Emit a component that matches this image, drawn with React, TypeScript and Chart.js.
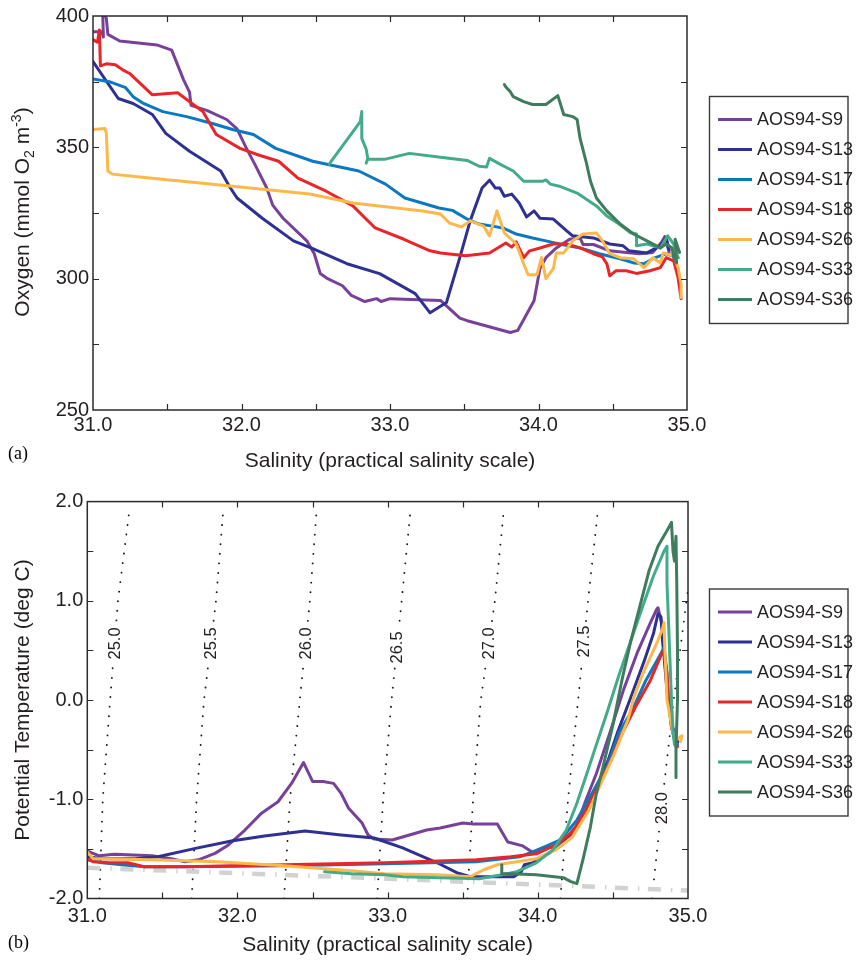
import React, { useEffect, useRef } from "react";
import { Chart, registerables } from "chart.js";

Chart.register(...registerables);

const FONT = "'Liberation Sans', Arial, Helvetica, sans-serif";
const SERIF = "'Liberation Serif', 'Times New Roman', serif";
const TEXT = "#231f20";

const stations = ["AOS94-S9", "AOS94-S13", "AOS94-S17", "AOS94-S18", "AOS94-S26", "AOS94-S33", "AOS94-S36"];
const stationColors = ["#774199", "#2e3192", "#0b78bf", "#e8262a", "#fdb84c", "#43ab87", "#3f7c5e"];

// ---------- Panel (a): salinity vs oxygen ----------
const s9SalA = [31.00, 31.06, 31.07, 31.065, 31.07, 31.09, 31.10, 31.18, 31.43, 31.53, 31.61, 31.65, 31.66, 31.77, 31.90, 31.97, 32.03, 32.09, 32.17, 32.21, 32.28, 32.44, 32.49, 32.53, 32.58, 32.68, 32.74, 32.83, 32.91, 32.94, 33.00, 33.34, 33.47, 33.52, 33.81, 33.86, 33.97, 34.01, 34.05, 34.12, 34.21, 34.28, 34.30, 34.37, 34.48, 34.59, 34.68, 34.77, 34.83, 34.85, 34.88];
const s9OxyA = [394, 394, 392, 402, 403, 399, 393, 390.5, 389, 387, 375.7, 371, 366, 364, 360.6, 357, 350, 343.5, 334.5, 328, 323, 314.4, 309.5, 302, 300, 297.3, 293.6, 291.3, 292.4, 291.3, 292.4, 291.7, 285, 284, 279.5, 280.3, 291.6, 304, 308, 311.7, 315, 315.5, 313, 313, 310.6, 310, 309.5, 310, 314, 316, 310];

const s13SalA = [31.00, 31.17, 31.27, 31.40, 31.49, 31.65, 31.86, 31.92, 31.97, 32.14, 32.35, 32.48, 32.71, 32.93, 33.17, 33.27, 33.38, 33.47, 33.54, 33.62, 33.67, 33.71, 33.74, 33.77, 33.82, 33.87, 33.92, 33.97, 34.01, 34.10, 34.19, 34.23, 34.37, 34.48, 34.57, 34.61, 34.73, 34.82, 34.86, 34.88];
const s13OxyA = [382.6, 368.6, 366.7, 362.5, 355.3, 348.5, 341, 335, 330.7, 323, 314.4, 311.4, 305.7, 301.9, 294.3, 287, 290.9, 308, 322, 334.5, 337.5, 334.5, 334.5, 331.4, 332.2, 328.8, 323.5, 325.8, 323, 322.7, 318.2, 316.3, 315.5, 313.2, 312.5, 310.6, 309.8, 312.5, 315.6, 311];

const s17SalA = [31.00, 31.11, 31.22, 31.27, 31.34, 31.47, 31.63, 31.81, 31.94, 32.08, 32.23, 32.48, 32.79, 32.97, 33.10, 33.33, 33.42, 33.51, 33.60, 33.69, 33.76, 33.85, 33.96, 34.05, 34.14, 34.28, 34.41, 34.55, 34.64, 34.71, 34.77, 34.86, 34.94];
const s17OxyA = [376, 375, 372.7, 369.3, 366.7, 363.6, 361.7, 359, 356.8, 354.9, 349.6, 344.7, 341, 336, 330.7, 326.9, 326, 323, 320.8, 320, 319.3, 317, 315.5, 314.4, 313.2, 311.7, 309.5, 307.6, 306, 305.7, 307.6, 309.5, 308];

const s18SalA = [31.00, 31.03, 31.043, 31.05, 31.09, 31.15, 31.20, 31.25, 31.40, 31.57, 31.74, 31.83, 31.99, 32.12, 32.25, 32.38, 32.57, 32.75, 32.90, 33.09, 33.27, 33.34, 33.51, 33.67, 33.78, 33.82, 33.85, 33.90, 33.94, 34.01, 34.10, 34.19, 34.28, 34.37, 34.43, 34.46, 34.48, 34.52, 34.59, 34.66, 34.75, 34.82, 34.86, 34.91, 34.94, 34.96];
const s18OxyA = [391, 390, 394.7, 381, 381.8, 381.4, 379.5, 378, 370, 370.8, 363.6, 354.9, 349.6, 347, 344.7, 338.3, 333.3, 327.7, 319.3, 315.1, 310.6, 309.8, 308.7, 309.8, 313.6, 312, 314, 308, 310.6, 311.7, 313.2, 313.2, 311.7, 309.5, 308.3, 305.7, 301.1, 303, 303, 302, 303, 304.2, 308, 306.8, 300.4, 292.4];

const s26SalA = [31.00, 31.08, 31.09, 31.10, 31.13, 31.38, 31.94, 32.46, 32.75, 33.22, 33.34, 33.40, 33.48, 33.54, 33.63, 33.67, 33.72, 33.77, 33.85, 33.90, 33.93, 33.99, 34.02, 34.05, 34.10, 34.12, 34.17, 34.23, 34.30, 34.39, 34.43, 34.48, 34.55, 34.64, 34.71, 34.77, 34.82, 34.84, 34.91, 34.94, 34.96, 34.96];
const s26OxyA = [356.8, 357.2, 355.3, 341, 339.8, 338.3, 335.2, 332.2, 328.8, 325.8, 324.6, 321.2, 319.7, 322, 320, 316.3, 325.8, 317.4, 313.2, 305.7, 301.5, 301.5, 308, 300, 303.8, 309.8, 309.8, 314.4, 317, 317.4, 314.4, 309.5, 308, 307.6, 304.2, 308, 306, 309.8, 308.7, 304.2, 298, 292.8];

const s33SalA = [32.59, 32.80, 32.81, 32.81, 32.84, 32.85, 32.84, 32.85, 32.97, 33.13, 33.34, 33.52, 33.60, 33.65, 33.67, 33.74, 33.83, 33.90, 34.03, 34.05, 34.08, 34.14, 34.26, 34.32, 34.39, 34.46, 34.55, 34.62, 34.66, 34.66, 34.73, 34.82, 34.87, 34.91, 34.94];
const s33OxyA = [343.6, 359.8, 363.6, 353.4, 349.2, 345.8, 344, 345.5, 345.5, 347.7, 346.2, 345, 342.8, 342.5, 345.8, 343.6, 341, 337.1, 337.1, 337.6, 336, 335.2, 332.6, 330.3, 327.7, 323.9, 320.5, 317.5, 317, 312.5, 313.2, 311.7, 316.3, 313.2, 308];

const s36SalA = [33.77, 33.78, 33.81, 33.83, 33.90, 33.96, 34.05, 34.13, 34.17, 34.23, 34.26, 34.28, 34.32, 34.35, 34.39, 34.46, 34.55, 34.64, 34.73, 34.82, 34.86, 34.90, 34.91, 34.93, 34.92, 34.95];
const s36OxyA = [373.9, 373, 371.2, 369.3, 367.4, 366.3, 366.3, 369.7, 362.5, 361.7, 360.6, 353.4, 344.7, 337.1, 330.7, 325.8, 320.8, 317, 314.4, 311.7, 313.2, 311.7, 308, 306, 315, 310];

// ---------- Panel (b): salinity vs potential temperature ----------
const s9SalB = [31.00, 31.03, 31.08, 31.18, 31.43, 31.56, 31.65, 31.74, 31.85, 31.94, 32.05, 32.16, 32.27, 32.36, 32.44, 32.50, 32.57, 32.64, 32.69, 32.74, 32.83, 32.87, 32.91, 33.03, 33.26, 33.35, 33.50, 33.57, 33.73, 33.80, 33.90, 33.97, 34.03, 34.11, 34.19, 34.26, 34.32, 34.39, 34.48, 34.57, 34.66, 34.75, 34.79, 34.80, 34.83, 34.84, 34.86, 34.89, 34.93];
const s9ThetaB = [-1.52, -1.54, -1.57, -1.555, -1.57, -1.60, -1.63, -1.61, -1.545, -1.46, -1.31, -1.14, -1.025, -0.84, -0.63, -0.82, -0.82, -0.84, -0.94, -1.09, -1.24, -1.36, -1.40, -1.41, -1.31, -1.29, -1.24, -1.25, -1.25, -1.43, -1.47, -1.54, -1.49, -1.48, -1.39, -1.26, -1.01, -0.74, -0.33, 0.10, 0.47, 0.78, 0.91, 0.93, 0.74, 0.53, 0.10, -0.23, -0.43];

const s13SalB = [31.00, 31.10, 31.32, 31.47, 31.72, 31.96, 32.18, 32.45, 32.69, 32.91, 33.10, 33.33, 33.46, 33.55, 33.73, 33.84, 33.89, 33.91, 33.97, 34.01, 34.08, 34.16, 34.24, 34.32, 34.41, 34.47, 34.53, 34.62, 34.71, 34.77, 34.80, 34.82, 34.83, 34.84, 34.86, 34.89, 34.93];
const s13ThetaB = [-1.58, -1.60, -1.60, -1.58, -1.495, -1.42, -1.37, -1.32, -1.36, -1.39, -1.49, -1.64, -1.74, -1.78, -1.78, -1.78, -1.73, -1.66, -1.64, -1.59, -1.54, -1.46, -1.34, -1.11, -0.81, -0.60, -0.33, 0.03, 0.40, 0.67, 0.87, 0.84, 0.60, 0.45, 0.10, -0.25, -0.42];

const s17SalB = [31.00, 31.10, 31.23, 31.38, 31.65, 32.31, 32.98, 33.59, 33.88, 34.03, 34.15, 34.26, 34.35, 34.46, 34.54, 34.63, 34.72, 34.82, 34.84, 34.86, 34.87, 34.89, 34.92, 34.93];
const s17ThetaB = [-1.61, -1.64, -1.66, -1.68, -1.68, -1.67, -1.65, -1.63, -1.58, -1.49, -1.41, -1.21, -0.97, -0.67, -0.33, -0.10, 0.20, 0.47, 0.53, 0.27, 0.00, -0.27, -0.47, -0.45];

const s18SalB = [31.00, 31.04, 31.14, 31.27, 31.38, 31.65, 32.31, 32.98, 33.59, 33.82, 33.99, 34.12, 34.23, 34.32, 34.41, 34.49, 34.54, 34.65, 34.75, 34.82, 34.84, 34.85, 34.86, 34.87, 34.89, 34.92, 34.93];
const s18ThetaB = [-1.60, -1.63, -1.64, -1.64, -1.68, -1.68, -1.66, -1.64, -1.61, -1.58, -1.55, -1.46, -1.33, -1.11, -0.84, -0.60, -0.40, -0.07, 0.20, 0.45, 0.50, 0.37, 0.27, 0.00, -0.27, -0.45, -0.47];

const s26SalB = [31.00, 31.01, 31.04, 31.10, 31.43, 31.87, 32.31, 32.76, 32.98, 33.33, 33.55, 33.64, 33.73, 33.86, 33.99, 34.12, 34.23, 34.34, 34.43, 34.51, 34.60, 34.64, 34.70, 34.77, 34.80, 34.83, 34.84, 34.845, 34.86, 34.90, 34.92, 34.96, 34.95];
const s26ThetaB = [-1.53, -1.55, -1.60, -1.60, -1.61, -1.63, -1.67, -1.72, -1.75, -1.76, -1.78, -1.71, -1.66, -1.63, -1.60, -1.51, -1.38, -1.11, -0.81, -0.54, -0.20, 0.03, 0.27, 0.50, 0.60, 0.72, 0.78, 0.55, 0.00, -0.33, -0.40, -0.36, -0.42];

const s33SalB = [32.58, 32.76, 32.98, 33.10, 33.61, 33.76, 33.86, 33.99, 34.10, 34.19, 34.26, 34.32, 34.37, 34.46, 34.54, 34.62, 34.70, 34.77, 34.84, 34.86, 34.86, 34.87, 34.88, 34.89, 34.90, 34.91];
const s33ThetaB = [-1.73, -1.75, -1.76, -1.78, -1.80, -1.76, -1.73, -1.64, -1.51, -1.31, -1.04, -0.77, -0.54, -0.13, 0.25, 0.60, 0.95, 1.25, 1.50, 1.55, 1.18, 0.80, 0.40, 0.00, -0.30, -0.45];

const s36SalB = [33.76, 33.76, 33.82, 33.99, 34.17, 34.22, 34.26, 34.30, 34.35, 34.39, 34.43, 34.50, 34.56, 34.62, 34.68, 34.74, 34.80, 34.85, 34.89, 34.90, 34.91, 34.92, 34.925, 34.93, 34.93, 34.92, 34.92];
const s36ThetaB = [-1.66, -1.75, -1.75, -1.76, -1.79, -1.83, -1.85, -1.61, -1.28, -0.94, -0.70, -0.25, 0.20, 0.60, 0.95, 1.30, 1.55, 1.68, 1.79, 1.50, 1.40, 1.65, 1.20, 0.50, 0.00, -0.50, -0.78];

// Isopycnals (sigma-theta), salinity read at these potential temperatures
const isoTheta = [-2.0, -1.0, 0.0, 1.0, 1.91];
const iso250Sal = [31.08, 31.103, 31.152, 31.204, 31.28];
const iso255Sal = [31.695, 31.728, 31.777, 31.857, 31.905];
const iso260Sal = [32.31, 32.35, 32.415, 32.482, 32.527];
const iso265Sal = [32.93, 32.97, 33.026, 33.093, 33.152];
const iso270Sal = [33.53, 33.569, 33.62, 33.714, 33.773];
const iso275Sal = [34.15, 34.201, 34.268, 34.334, 34.40];
const iso280Sal = [34.76, 34.83, 34.905, 34.99, 35.07];
const isoLabels = ["25.0", "25.5", "26.0", "26.5", "27.0", "27.5", "28.0"];
const isoLabelTheta = [0.57, 0.57, 0.57, 0.53, 0.57, 0.59, -1.09];

// Freezing line
const freezeSal = [31.0, 33.0, 35.0];
const freezeTheta = [-1.69, -1.80, -1.92];

const salA = [s9SalA, s13SalA, s17SalA, s18SalA, s26SalA, s33SalA, s36SalA];
const oxyA = [s9OxyA, s13OxyA, s17OxyA, s18OxyA, s26OxyA, s33OxyA, s36OxyA];
const salB = [s9SalB, s13SalB, s17SalB, s18SalB, s26SalB, s33SalB, s36SalB];
const thetaB = [s9ThetaB, s13ThetaB, s17ThetaB, s18ThetaB, s26ThetaB, s33ThetaB, s36ThetaB];
const isoSal = [iso250Sal, iso255Sal, iso260Sal, iso265Sal, iso270Sal, iso275Sal, iso280Sal];

function pairs(xs: number[], ys: number[]) {
  const n = Math.min(xs.length, ys.length);
  const out: { x: number; y: number }[] = [];
  for (let i = 0; i < n; i++) out.push({ x: xs[i], y: ys[i] });
  return out;
}

function interpSal(sal: number[], th: number[], t: number) {
  for (let i = 0; i < th.length - 1; i++) {
    if (t >= th[i] && t <= th[i + 1]) {
      const f = (t - th[i]) / (th[i + 1] - th[i]);
      return sal[i] + f * (sal[i + 1] - sal[i]);
    }
  }
  return sal[0];
}

function stationDatasets(sal: number[][], val: number[][]) {
  return stations.map((name, i) => ({
    label: name,
    data: pairs(sal[i], val[i]),
    borderColor: stationColors[i],
    backgroundColor: stationColors[i],
    borderWidth: 3,
    showLine: true,
    pointRadius: 0,
    tension: 0,
    borderJoinStyle: "round" as const,
    borderCapStyle: "round" as const,
    order: 10 - i,
  }));
}

type PanelCfg = {
  letter: string;
  letterY: number;
  xTitleY: number;
  yTitle: (ctx: CanvasRenderingContext2D) => void;
  xMinor: number;
  yMinor: number;
  legendTop: number;
  iso: boolean;
};

function drawRich(ctx: CanvasRenderingContext2D, parts: { t: string; size: number; dy: number }[], cx: number, cy: number) {
  ctx.save();
  ctx.translate(cx, cy);
  ctx.rotate(-Math.PI / 2);
  let total = 0;
  for (const p of parts) {
    ctx.font = `${p.size}px ${FONT}`;
    total += ctx.measureText(p.t).width;
  }
  let x = -total / 2;
  ctx.textBaseline = "alphabetic";
  ctx.textAlign = "left";
  ctx.fillStyle = TEXT;
  for (const p of parts) {
    ctx.font = `${p.size}px ${FONT}`;
    ctx.fillText(p.t, x, 7 + p.dy);
    x += ctx.measureText(p.t).width;
  }
  ctx.restore();
}

function overlayPlugin(cfg: PanelCfg) {
  return {
    id: "overlay",
    afterDatasetsDraw(chart: any) {
      const ctx: CanvasRenderingContext2D = chart.ctx;
      const { left, right, top, bottom } = chart.chartArea;
      const xs = chart.scales.x;
      const ys = chart.scales.y;
      ctx.save();

      // isopycnal labels
      if (cfg.iso) {
        ctx.font = `16.5px ${FONT}`;
        for (let i = 0; i < isoLabels.length; i++) {
          const t = isoLabelTheta[i];
          const s = interpSal(isoSal[i], isoTheta, t);
          const px = xs.getPixelForValue(s);
          const py = ys.getPixelForValue(t);
          const w = ctx.measureText(isoLabels[i]).width;
          ctx.save();
          ctx.translate(px, py);
          ctx.rotate(-Math.PI / 2);
          ctx.fillStyle = "#ffffff";
          ctx.fillRect(-w / 2 - 3, -8, w + 6, 16);
          ctx.fillStyle = TEXT;
          ctx.textAlign = "center";
          ctx.textBaseline = "middle";
          ctx.fillText(isoLabels[i], 0, 1);
          ctx.restore();
        }
      }

      // frame
      ctx.strokeStyle = "#2b2b2b";
      ctx.lineWidth = 1.5;
      ctx.strokeRect(left, top, right - left, bottom - top);

      // inward ticks on all four sides
      const tl = 6;
      ctx.lineWidth = 1.2;
      ctx.beginPath();
      for (let v = xs.min + cfg.xMinor; v < xs.max - 1e-9; v += cfg.xMinor) {
        const px = Math.round(xs.getPixelForValue(v)) + 0.5;
        ctx.moveTo(px, bottom);
        ctx.lineTo(px, bottom - tl);
        ctx.moveTo(px, top);
        ctx.lineTo(px, top + tl);
      }
      for (let v = ys.min + cfg.yMinor; v < ys.max - 1e-9; v += cfg.yMinor) {
        const py = Math.round(ys.getPixelForValue(v)) + 0.5;
        ctx.moveTo(left, py);
        ctx.lineTo(left + tl, py);
        ctx.moveTo(right, py);
        ctx.lineTo(right - tl, py);
      }
      ctx.stroke();

      // axis titles
      ctx.fillStyle = TEXT;
      ctx.font = `21px ${FONT}`;
      ctx.textAlign = "center";
      ctx.textBaseline = "middle";
      ctx.fillText("Salinity (practical salinity scale)", (left + right) / 2, cfg.xTitleY);
      cfg.yTitle(ctx);

      // panel letter
      ctx.font = `18px ${SERIF}`;
      ctx.textAlign = "left";
      ctx.textBaseline = "middle";
      ctx.fillStyle = "#000";
      ctx.fillText(cfg.letter, 8, cfg.letterY);

      // legend
      const bx = 709.5;
      const bw = 138.5;
      const by = cfg.legendTop;
      const bh = 227;
      ctx.fillStyle = "#fff";
      ctx.fillRect(bx, by, bw, bh);
      ctx.strokeStyle = "#3a3a3a";
      ctx.lineWidth = 1.4;
      ctx.strokeRect(bx, by, bw, bh);
      ctx.font = `18px ${FONT}`;
      ctx.textAlign = "left";
      ctx.textBaseline = "middle";
      stations.forEach((name, i) => {
        const y = by + 23 + i * 30;
        ctx.strokeStyle = stationColors[i];
        ctx.lineWidth = 3;
        ctx.beginPath();
        ctx.moveTo(718, y);
        ctx.lineTo(752, y);
        ctx.stroke();
        ctx.fillStyle = TEXT;
        ctx.fillText(name, 757, y + 1);
      });

      ctx.restore();
    },
  };
}

const tickFont = { size: 20, family: FONT };

function makeConfigA() {
  const cfg: PanelCfg = {
    letter: "(a)",
    letterY: 454,
    xTitleY: 461,
    xMinor: 0.5,
    yMinor: 25,
    legendTop: 96.5,
    iso: false,
    yTitle: (ctx) => {
      drawRich(
        ctx,
        [
          { t: "Oxygen (mmol O", size: 21, dy: 0 },
          { t: "2", size: 14, dy: 5 },
          { t: " m", size: 21, dy: 0 },
          { t: "-3", size: 14, dy: -8 },
          { t: ")", size: 21, dy: 0 },
        ],
        22,
        212
      );
    },
  };
  return {
    type: "scatter" as const,
    data: { datasets: stationDatasets(salA, oxyA) },
    options: {
      responsive: false,
      animation: false as const,
      events: [],
      layout: { padding: { left: 0, right: 175, top: 14, bottom: 0 } },
      plugins: { legend: { display: false }, tooltip: { enabled: false } },
      scales: {
        x: {
          type: "linear" as const,
          min: 31,
          max: 35,
          grid: { display: false, drawTicks: false },
          border: { display: false },
          ticks: {
            stepSize: 1,
            autoSkip: false,
            maxRotation: 0,
            padding: 3,
            color: TEXT,
            font: tickFont,
            callback: (v: any) => Number(v).toFixed(1),
          },
          afterFit: (s: any) => {
            s.height = 70;
          },
        },
        y: {
          type: "linear" as const,
          min: 250,
          max: 400,
          grid: { display: false, drawTicks: false },
          border: { display: false },
          ticks: {
            stepSize: 50,
            autoSkip: false,
            padding: 4,
            color: TEXT,
            font: tickFont,
            callback: (v: any) => String(v),
          },
          afterFit: (s: any) => {
            s.width = 93;
          },
        },
      },
    },
    plugins: [overlayPlugin(cfg)],
  };
}

function makeConfigB() {
  const cfg: PanelCfg = {
    letter: "(b)",
    letterY: 463,
    xTitleY: 465,
    xMinor: 0.5,
    yMinor: 0.5,
    legendTop: 109,
    iso: true,
    yTitle: (ctx) => {
      drawRich(ctx, [{ t: "Potential Temperature (deg C)", size: 21, dy: 0 }], 22, 220);
    },
  };
  const isoSets = isoSal.map((sal, i) => ({
    label: "sigma " + isoLabels[i],
    data: pairs(sal, isoTheta),
    borderColor: "#1a1a1a",
    borderWidth: 1.9,
    borderDash: [0.01, 9.6],
    borderCapStyle: "round" as const,
    showLine: true,
    pointRadius: 0,
    order: 100,
  }));
  const freezeSet = {
    label: "freezing point",
    data: pairs(freezeSal, freezeTheta),
    borderColor: "#d2d2d2",
    borderWidth: 4.5,
    borderDash: [13, 10, 1.5, 8.5],
    borderCapStyle: "butt" as const,
    showLine: true,
    pointRadius: 0,
    order: 90,
  };
  return {
    type: "scatter" as const,
    data: { datasets: [...stationDatasets(salB, thetaB), freezeSet, ...isoSets] },
    options: {
      responsive: false,
      animation: false as const,
      events: [],
      layout: { padding: { left: 0, right: 174, top: 21.6, bottom: 0 } },
      plugins: { legend: { display: false }, tooltip: { enabled: false } },
      scales: {
        x: {
          type: "linear" as const,
          min: 31,
          max: 35,
          grid: { display: false, drawTicks: false },
          border: { display: false },
          ticks: {
            stepSize: 1,
            autoSkip: false,
            maxRotation: 0,
            padding: 6,
            color: TEXT,
            font: tickFont,
            callback: (v: any) => Number(v).toFixed(1),
          },
          afterFit: (s: any) => {
            s.height = 62.5;
          },
        },
        y: {
          type: "linear" as const,
          min: -2,
          max: 2,
          grid: { display: false, drawTicks: false },
          border: { display: false },
          ticks: {
            stepSize: 1,
            autoSkip: false,
            padding: 4,
            color: TEXT,
            font: tickFont,
            callback: (v: any) => Number(v).toFixed(1),
          },
          afterFit: (s: any) => {
            s.width = 87.3;
          },
        },
      },
    },
    plugins: [overlayPlugin(cfg)],
  };
}

export default function App() {
  const refA = useRef<HTMLCanvasElement | null>(null);
  const refB = useRef<HTMLCanvasElement | null>(null);

  useEffect(() => {
    if (!refA.current || !refB.current) return;
    const a = new Chart(refA.current, makeConfigA() as any);
    const b = new Chart(refB.current, makeConfigB() as any);
    return () => {
      a.destroy();
      b.destroy();
    };
  }, []);

  return (
    <div style={{ position: "absolute", left: 0, top: 0, width: 862, height: 961, background: "#fff", overflow: "hidden" }}>
      <canvas ref={refA} width={862} height={480} style={{ position: "absolute", left: 0, top: 0, width: 862, height: 480 }} />
      <canvas ref={refB} width={862} height={481} style={{ position: "absolute", left: 0, top: 480, width: 862, height: 481 }} />
    </div>
  );
}
